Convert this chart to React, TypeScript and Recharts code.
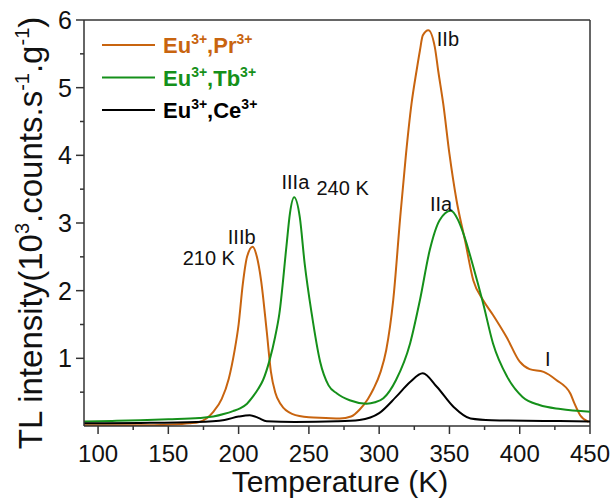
import {
  LineChart,
  Line,
  XAxis,
  YAxis,
  Legend,
  ReferenceLine,
  ReferenceDot,
} from 'recharts'

// Eu3+,Pr3+ glow curve
const prT = [90, 110, 130, 150, 165, 172, 182, 188, 193, 197, 200, 203, 206, 210, 213, 216, 220, 223, 226, 230, 238, 250, 262, 272, 280, 286, 292, 296, 301, 305, 310, 315, 319, 323, 326.6, 329, 331, 335, 339.6, 342, 345.6, 350, 355, 361, 367, 374, 381, 391, 400, 407, 417, 426, 436, 439, 443, 449]
const prV = [0.01, 0.01, 0.01, 0.02, 0.04, 0.06, 0.21, 0.4, 0.7, 1.1, 1.5, 2.1, 2.5, 2.65, 2.5, 2.15, 1.4, 0.8, 0.5, 0.32, 0.18, 0.13, 0.12, 0.11, 0.14, 0.24, 0.4, 0.55, 0.8, 1.12, 1.86, 3.09, 4.0, 4.76, 5.25, 5.55, 5.77, 5.85, 5.6, 5.25, 4.76, 4.02, 3.34, 2.75, 2.15, 1.86, 1.64, 1.3, 0.95, 0.84, 0.8, 0.68, 0.48, 0.33, 0.16, 0.06]

// Eu3+,Tb3+
const tbT = [90, 110, 130, 150, 172, 182, 190, 196, 201, 206, 210, 214, 217.4, 222, 226, 229, 234, 236.5, 239.5, 243.5, 247, 252, 258, 264, 270, 279, 291, 297, 303, 312, 322, 329, 336, 343, 351, 356, 360, 367, 374, 381, 391, 402, 414, 429, 450]
const tbV = [0.065, 0.075, 0.085, 0.1, 0.12, 0.14, 0.18, 0.22, 0.26, 0.33, 0.43, 0.55, 0.68, 0.97, 1.32, 1.66, 2.65, 3.14, 3.38, 3.09, 2.4, 1.66, 0.95, 0.6, 0.48, 0.38, 0.33, 0.35, 0.41, 0.68, 1.22, 1.86, 2.6, 3.04, 3.18, 3.05, 2.84, 2.35, 1.81, 1.22, 0.73, 0.43, 0.31, 0.25, 0.21]

// Eu3+,Ce3+
const ceT = [90, 130, 170, 190, 200, 208, 214, 220, 240, 270, 286, 300, 312, 322, 331, 341, 353, 365, 380, 420, 450]
const ceV = [0.04, 0.045, 0.06, 0.09, 0.14, 0.16, 0.12, 0.07, 0.06, 0.07, 0.09, 0.19, 0.43, 0.65, 0.78, 0.58, 0.28, 0.11, 0.085, 0.075, 0.065]

const xTicks = [100, 125, 150, 175, 200, 225, 250, 275, 300, 325, 350, 375, 400, 425, 450]
const yTicks = [0.5, 1, 1.5, 2, 2.5, 3, 3.5, 4, 4.5, 5, 5.5, 6]

const notes = [
  { text: 'IIb', t: 341, v: 5.62 },
  { text: 'IIIa', t: 230.5, v: 3.5 },
  { text: '240 K', t: 255.4, v: 3.42 },
  { text: 'IIIb', t: 192.3, v: 2.69 },
  { text: '210 K', t: 160.2, v: 2.38 },
  { text: 'IIa', t: 336.1, v: 3.17 },
  { text: 'I', t: 417.9, v: 0.89 },
]

const ORANGE = '#c8640f'
const GREEN = '#15901a'
const AXIS = '#333'
const LEFT = 84
const BOTTOM = 426
const FONT = 'Liberation Sans, Arial, sans-serif'

const zip = (t: number[], v: number[]) => t.map((x, i) => ({ t: x, v: v[i] }))

const series = [
  { name: 'Pr', ion: 'Pr', color: ORANGE, data: zip(prT, prV) },
  { name: 'Tb', ion: 'Tb', color: GREEN, data: zip(tbT, tbV) },
  { name: 'Ce', ion: 'Ce', color: '#000', data: zip(ceT, ceV) },
]

const XTick = ({ x, payload }: any) => {
  const major = payload.value % 50 === 0
  return (
    <g>
      <line x1={x} x2={x} y1={BOTTOM} y2={BOTTOM + (major ? 8 : 4)} stroke={AXIS} strokeWidth={1.5} />
      {major && (
        <text x={x} y={BOTTOM + 36} textAnchor="middle" fontSize={24} fontFamily={FONT} fill="#111">
          {payload.value}
        </text>
      )}
    </g>
  )
}

const YTick = ({ y, payload }: any) => {
  const major = Number.isInteger(payload.value)
  return (
    <g>
      <line x1={LEFT} x2={LEFT - (major ? 8 : 4)} y1={y} y2={y} stroke={AXIS} strokeWidth={1.5} />
      {major && (
        <text x={LEFT - 12} y={y + 9} textAnchor="end" fontSize={25} fontFamily={FONT} fill="#111">
          {payload.value}
        </text>
      )}
    </g>
  )
}

const LegendBox = () => (
  <svg width={200} height={100}>
    {series.map((s, i) => (
      <g key={s.name}>
        <line x1={2} x2={55} y1={17 + i * 32.5} y2={17 + i * 32.5} stroke={s.color} strokeWidth={2} />
        <text x={63} y={25 + i * 32.5} fill={s.color} fontWeight="bold" fontSize={22} fontFamily={FONT}>
          Eu<tspan fontSize={14} dy={-9}>3+</tspan>
          <tspan dy={9}>,{s.ion}</tspan>
          <tspan fontSize={14} dy={-9}>3+</tspan>
        </text>
      </g>
    ))}
  </svg>
)

const YTitle = () => (
  <text
    x={42}
    y={233}
    transform="rotate(-90 42 233)"
    textAnchor="middle"
    fontSize={33}
    fontFamily={FONT}
    fill="#111"
  >
    TL intensity(10<tspan fontSize={20} dy={-13}>3</tspan>
    <tspan dy={13}>.counts.s</tspan>
    <tspan fontSize={20} dy={-13}>-1</tspan>
    <tspan dy={13}>.g</tspan>
    <tspan fontSize={20} dy={-13}>-1</tspan>
    <tspan dy={13}>)</tspan>
  </text>
)

const XTitle = () => (
  <text x={340} y={492} textAnchor="middle" fontSize={30} fontFamily={FONT} fill="#111">
    Temperature (K)
  </text>
)

export default function App() {
  return (
    <div style={{ position: 'absolute', left: 0, top: 0, background: '#fff' }}>
      <LineChart width={611} height={501} margin={{ top: 20, right: 21, bottom: 0, left: 0 }}>
        <XAxis
          dataKey="t"
          type="number"
          domain={[90, 450]}
          ticks={xTicks}
          interval={0}
          height={75}
          allowDataOverflow
          stroke={AXIS}
          strokeWidth={1.5}
          tickLine={false}
          tick={<XTick />}
          label={{ content: () => <XTitle /> }}
        />
        <YAxis
          type="number"
          domain={[0, 6]}
          ticks={yTicks}
          interval={0}
          width={84}
          allowDataOverflow
          stroke={AXIS}
          strokeWidth={1.5}
          tickLine={false}
          tick={<YTick />}
          label={{ content: () => <YTitle /> }}
        />
        <ReferenceLine y={6} stroke={AXIS} strokeWidth={1.5} />
        <ReferenceLine x={450} stroke={AXIS} strokeWidth={1.5} />
        {series.map((s) => (
          <Line
            key={s.name}
            data={s.data}
            dataKey="v"
            name={s.name}
            type="monotone"
            stroke={s.color}
            strokeWidth={2}
            dot={false}
            isAnimationActive={false}
          />
        ))}
        {notes.map((n) => (
          <ReferenceDot
            key={n.text}
            x={n.t}
            y={n.v}
            r={0}
            shape={(p: any) => (
              <text x={p.cx} y={p.cy} fontSize={20} fontFamily={FONT} fill="#111">
                {n.text}
              </text>
            )}
          />
        ))}
        <Legend
          layout="vertical"
          align="center"
          verticalAlign="middle"
          wrapperStyle={{ top: 28, left: 100, width: 200 }}
          content={() => <LegendBox />}
        />
      </LineChart>
    </div>
  )
}
